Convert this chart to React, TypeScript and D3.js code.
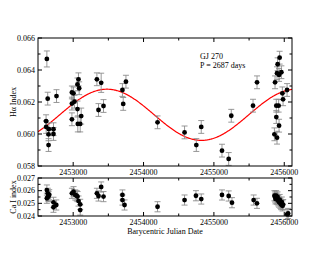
import React from 'react';
import * as d3 from 'd3';

// H-alpha index observations (BJD, index, error)
const haTime = [
  2452626, 2452638, 2452763, 2452615, 2452616, 2452654, 2452650, 2452650, 2452720, 2452720,
  2452982, 2453005, 2453075, 2453061, 2453085, 2453018, 2452982, 2453061, 2452982, 2453066, 2453100, 2453114,
  2453337, 2453398, 2453360, 2453431,
  2453700, 2453750, 2453711,
  2454199, 2454583, 2454750, 2454820,
  2455115, 2455210, 2455247, 2455556, 2455613,
  2455934, 2455906, 2455897, 2455926, 2455959, 2455869, 2455973, 2456040, 2455983, 2455887, 2455920, 2455887,
  2455926, 2455860, 2455897,
];
const haValue = [
  0.06469, 0.06221, 0.06237, 0.0608, 0.06044, 0.0603, 0.05998, 0.05931, 0.0603, 0.06,
  0.0626, 0.06254, 0.06342, 0.0631, 0.06286, 0.06202, 0.0619, 0.06156, 0.06092, 0.06063, 0.06063, 0.06112,
  0.06342, 0.0632, 0.0615, 0.06175,
  0.06275, 0.06327, 0.06188,
  0.06073, 0.0601, 0.05931, 0.06044,
  0.05896, 0.05844, 0.06114, 0.06177, 0.06323,
  0.06477, 0.06436, 0.0638, 0.06369, 0.06386, 0.06323, 0.06254, 0.06275, 0.06217, 0.06177, 0.06177, 0.06106,
  0.06052, 0.05998, 0.05977,
];
const haError = [
  0.0005, 0.0004, 0.0004, 0.0004, 0.0004, 0.0004, 0.0004, 0.0004, 0.0004, 0.0004,
  0.0004, 0.0004, 0.0004, 0.0004, 0.0004, 0.0004, 0.0004, 0.0005, 0.0004, 0.0005, 0.0005, 0.0005,
  0.0004, 0.0006, 0.0004, 0.0004,
  0.0004, 0.0004, 0.0004,
  0.0004, 0.0004, 0.0004, 0.0004,
  0.0004, 0.0004, 0.0004, 0.0004, 0.0004,
  0.0004, 0.0004, 0.0004, 0.0004, 0.0004, 0.0004, 0.0004, 0.0004, 0.0004, 0.0004, 0.0004, 0.0004,
  0.0004, 0.0004, 0.0004,
];

// Ca I index observations
const caTime = [
  2452626, 2452638, 2452650, 2452626, 2452645, 2452660, 2452720, 2452760, 2452720,
  2452982, 2453005, 2453029, 2453062, 2453050, 2453076, 2453100, 2453100,
  2453337, 2453360, 2453398, 2453431,
  2453700, 2453700, 2453730,
  2454199, 2454583, 2454745, 2454820, 2455115, 2455210, 2455257, 2455565, 2455612,
  2455860, 2455870, 2455875, 2455885, 2455890, 2455900, 2455905, 2455915, 2455925, 2455935,
  2455945, 2455955, 2455965, 2455975, 2455985,
  2456040, 2456055,
];
const caValue = [
  0.02605, 0.02579, 0.02553, 0.0254, 0.0256, 0.02568, 0.02508, 0.02487, 0.02469,
  0.02579, 0.02592, 0.02566, 0.02553, 0.0256, 0.02518, 0.02492, 0.02447,
  0.02579, 0.02558, 0.02629, 0.02553,
  0.02566, 0.02526, 0.02487,
  0.02473, 0.02526, 0.0256, 0.02534, 0.02566, 0.02558, 0.02505, 0.02526, 0.025,
  0.0256, 0.0255, 0.02535, 0.0256, 0.0254, 0.0253, 0.0255, 0.0252, 0.0251, 0.0253,
  0.025, 0.0249, 0.0251, 0.0248, 0.0249,
  0.02413, 0.0242,
];
const caError = caValue.map(() => 0.0004);

// sine fit
const fitPeriod = 2687;
const fitMean = 0.0612;
const fitAmp = 0.0016;
const fitTmax = 2453480;

const timeDomain = [2452500, 2456110];
const timeTicks = [2453000, 2454000, 2455000, 2456000];
const timeMinor = [2452500, 2453500, 2454500, 2455500];
const haTicks = [0.058, 0.06, 0.062, 0.064, 0.066];
const haMinor = [0.059, 0.061, 0.063, 0.065];
const caTicks = [0.024, 0.025, 0.026, 0.027];
const caMinor = [0.0245, 0.0255, 0.0265];

const W = 330;
const H = 255;
const left = 38;
const right = 292;
const font = '"Liberation Serif", "Times New Roman", serif';

const Panel = ({ x, y, yTicks, yMinor, fmt }) => {
  const [y0, y1] = y.range();
  const [x0, x1] = x.range();
  const maj = 4;
  const min = 2.5;
  return (
    <g>
      <rect x={x0} y={y1} width={x1 - x0} height={y0 - y1} fill="none" stroke="#000" strokeWidth={1} />
      {timeTicks.map(t => (
        <g key={'xt' + t}>
          <line x1={x(t)} x2={x(t)} y1={y0} y2={y0 - maj} stroke="#000" />
          <line x1={x(t)} x2={x(t)} y1={y1} y2={y1 + maj} stroke="#000" />
          <text x={x(t)} y={y0 + 8.5} textAnchor="middle" fontSize={8} fontFamily={font} fill="#000">{t}</text>
        </g>
      ))}
      {timeMinor.filter(t => x(t) > x0 + 1).map(t => (
        <g key={'xm' + t}>
          <line x1={x(t)} x2={x(t)} y1={y0} y2={y0 - min} stroke="#000" />
          <line x1={x(t)} x2={x(t)} y1={y1} y2={y1 + min} stroke="#000" />
        </g>
      ))}
      {yTicks.map(v => (
        <g key={'yt' + v}>
          <line x1={x0} x2={x0 + maj} y1={y(v)} y2={y(v)} stroke="#000" />
          <line x1={x1} x2={x1 - maj} y1={y(v)} y2={y(v)} stroke="#000" />
          <text x={x0 - 3} y={y(v)} dy="0.35em" textAnchor="end" fontSize={8} fontFamily={font} fill="#000">{fmt(v)}</text>
        </g>
      ))}
      {yMinor.map(v => (
        <g key={'ym' + v}>
          <line x1={x0} x2={x0 + min} y1={y(v)} y2={y(v)} stroke="#000" />
          <line x1={x1} x2={x1 - min} y1={y(v)} y2={y(v)} stroke="#000" />
        </g>
      ))}
    </g>
  );
};

const Points = ({ x, y, times, values, errors }) => (
  <g>
    {times.map((t, i) => {
      const cx = x(t);
      const lo = y(values[i] - errors[i]);
      const hi = y(values[i] + errors[i]);
      return (
        <g key={i} stroke="#8c8c8c" strokeWidth={0.9}>
          <line x1={cx} x2={cx} y1={lo} y2={hi} />
          <line x1={cx - 3} x2={cx + 3} y1={lo} y2={lo} />
          <line x1={cx - 3} x2={cx + 3} y1={hi} y2={hi} />
        </g>
      );
    })}
    {times.map((t, i) => (
      <circle key={'c' + i} cx={x(t)} cy={y(values[i])} r={2.4} fill="#000" />
    ))}
  </g>
);

export default function App() {
  const x = d3.scaleLinear().domain(timeDomain).range([left, right]);
  const yHa = d3.scaleLinear().domain([0.058, 0.066]).range([166, 38]);
  const yCa = d3.scaleLinear().domain([0.024, 0.027]).range([216, 178]);

  const fitT = d3.range(timeDomain[0], timeDomain[1] + 1, 10);
  const fitLine = d3.line<number>()
    .x(t => x(t))
    .y(t => yHa(fitMean + fitAmp * Math.cos((2 * Math.PI * (t - fitTmax)) / fitPeriod)));

  const fmt3 = d3.format('.3f');
  return (
    <svg width={W} height={H} style={{ position: 'absolute', left: 0, top: 0, background: '#fff' }}>
      <defs>
        <clipPath id="clipTop">
          <rect x={left} y={38} width={right - left} height={128} />
        </clipPath>
      </defs>
      <path d={fitLine(fitT) || ''} fill="none" stroke="#ff0000" strokeWidth={1.2} clipPath="url(#clipTop)" />
      <Points x={x} y={yHa} times={haTime} values={haValue} errors={haError} />
      <Panel x={x} y={yHa} yTicks={haTicks} yMinor={haMinor} fmt={fmt3} />
      <Points x={x} y={yCa} times={caTime} values={caValue} errors={caError} />
      <Panel x={x} y={yCa} yTicks={caTicks} yMinor={caMinor} fmt={fmt3} />

      <text x={200} y={59} fontSize={8} fontFamily={font} fill="#000">GJ 270</text>
      <text x={200} y={68} fontSize={8} fontFamily={font} fill="#000">P = 2687 days</text>

      <text transform={`translate(16,${(38 + 166) / 2}) rotate(-90)`} textAnchor="middle" fontSize={8} fontFamily={font} fill="#000">
        Hα Index
      </text>
      <text transform={`translate(16,${(178 + 216) / 2}) rotate(-90)`} textAnchor="middle" fontSize={8} fontFamily={font} fill="#000">
        Ca I index
      </text>
      <text x={(left + right) / 2} y={234} textAnchor="middle" fontSize={8} fontFamily={font} fill="#000">
        Barycentric Julian Date
      </text>
    </svg>
  );
}
